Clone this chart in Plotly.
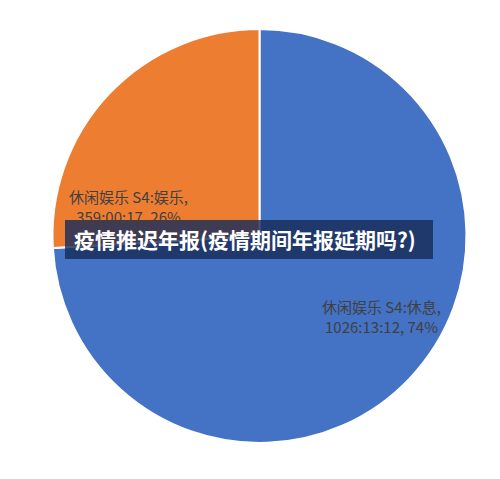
import plotly.graph_objects as go

# 休闲娱乐时长（秒），来自 hh:mm:ss
categories = ["休闲娱乐 S4:休息", "休闲娱乐 S4:娱乐"]
durations = ["1026:13:12", "359:00:17"]
seconds = [1026 * 3600 + 13 * 60 + 12, 359 * 3600 + 0 * 60 + 17]
percents = ["74%", "26%"]
colors = ["#4472C4", "#ED7D31"]

title_text = "疫情推迟年报(疫情期间年报延期吗?)"

W, H = 500, 479
OFF = 8  # page body margin


def px(x):
    return (x - OFF) / W


def py(y):
    return 1 - (y - OFF) / H


fig = go.Figure(go.Pie(
    labels=categories,
    values=seconds,
    textinfo="none",
    marker=dict(colors=colors, line=dict(color="white", width=2)),
    sort=False,
    direction="clockwise",
    rotation=0,
    showlegend=False,
    hoverinfo="label+percent",
    domain=dict(x=[px(52), px(467)], y=[py(443), py(29)]),
))

# 数据标签
label_pos = [(381, 316), (128, 206)]
for c, d, p, (lx, ly) in zip(categories, durations, percents, label_pos):
    fig.add_annotation(xref="paper", yref="paper", x=px(lx), y=py(ly),
                       xanchor="center", yanchor="middle", showarrow=False,
                       text=f"{c},<br>{d}, {p}", align="center",
                       font=dict(family="Noto Sans CJK SC", size=15, color="#404040"))

# 标题横幅
fig.add_shape(type="rect", xref="paper", yref="paper",
              x0=px(65), x1=px(433), y0=py(259), y1=py(220),
              fillcolor="rgba(25,45,90,0.82)", line=dict(width=0), layer="above")
fig.add_annotation(xref="paper", yref="paper", x=px(72), y=py(239),
                   xanchor="left", yanchor="middle", showarrow=False,
                   text=f"<b>{title_text}</b>",
                   font=dict(family="Noto Sans CJK SC", size=21, color="white"))

fig.update_layout(
    width=W, height=H,
    margin=dict(l=0, r=0, t=0, b=0),
    paper_bgcolor="white",
    plot_bgcolor="white",
)

fig.write_html("out.html")
